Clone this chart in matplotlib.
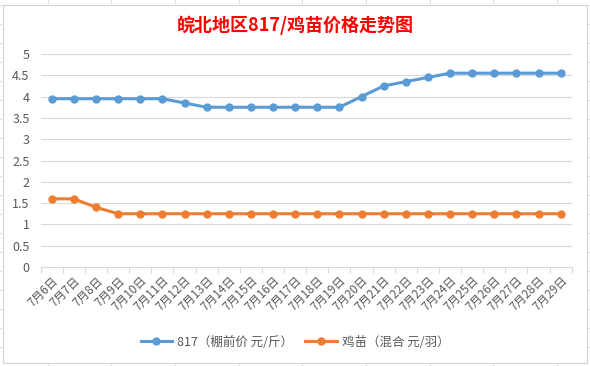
import matplotlib
matplotlib.use("Agg")
import matplotlib.pyplot as plt
from matplotlib.lines import Line2D
from matplotlib.patches import Rectangle

plt.rcParams['font.family'] = ['Noto Sans CJK SC', 'DejaVu Sans']

dates = [f"7月{d}日" for d in range(6, 30)]
price_817 = [3.95, 3.95, 3.95, 3.95, 3.95, 3.95, 3.85, 3.75, 3.75, 3.75, 3.75, 3.75,
             3.75, 3.75, 4.0, 4.25, 4.35, 4.45, 4.55, 4.55, 4.55, 4.55, 4.55, 4.55]
price_chick = [1.6, 1.6, 1.4, 1.25, 1.25, 1.25, 1.25, 1.25, 1.25, 1.25, 1.25, 1.25,
               1.25, 1.25, 1.25, 1.25, 1.25, 1.25, 1.25, 1.25, 1.25, 1.25, 1.25, 1.25]
series_names = ["817（棚前价 元/斤）", "鸡苗（混合 元/羽）"]
title = "皖北地区817/鸡苗价格走势图"

W, H = 590, 366
fig = plt.figure(figsize=(W / 100, H / 100), dpi=100)

# spreadsheet background grid + chart border
bg = fig.add_axes([0, 0, 1, 1])
bg.set_xlim(0, W)
bg.set_ylim(H, 0)
bg.axis('off')
for x in [48, 111, 175, 239, 302, 366, 430, 493, 557]:
    bg.plot([x, x], [0, 5], color='#E0E0E0', lw=0.8)
for y in range(5, H, 19):
    bg.plot([0, 3], [y, y], color='#E0E0E0', lw=0.8)
    bg.plot([587, W], [y, y], color='#E0E0E0', lw=0.8)
for x in [48, 111, 175, 239, 302, 366, 430, 493, 557]:
    bg.plot([x, x], [363, H], color='#E0E0E0', lw=0.8)
bg.add_patch(Rectangle((3, 5), 584, 358, facecolor='white', edgecolor='#D0D0D0', lw=0.8))

ax = fig.add_axes([40.7 / W, 1 - 267 / H, (571.7 - 40.7) / W, (267 - 54) / H])
x = list(range(len(dates)))
ax.plot(x, price_817, color='#5B9BD5', lw=2.2, marker='o', ms=5, zorder=3)
ax.plot(x, price_chick, color='#ED7D31', lw=2.2, marker='o', ms=5, zorder=3)

ax.set_xlim(-0.5, len(dates) - 0.5)
ax.set_ylim(0, 5)
ax.set_yticks([i * 0.5 for i in range(11)])
ax.set_yticklabels(['0', '0.5', '1', '1.5', '2', '2.5', '3', '3.5', '4', '4.5', '5'])
ax.grid(axis='y', color='#D9D9D9', lw=0.8)
ax.set_axisbelow(True)
for s in ['top', 'right', 'left']:
    ax.spines[s].set_visible(False)
ax.spines['bottom'].set_color('#D9D9D9')
ax.tick_params(axis='y', length=0, labelsize=9, labelcolor='#595959', pad=8)

ax.set_xticks([i - 0.5 for i in range(len(dates) + 1)], minor=False)
ax.set_xticklabels([''] * (len(dates) + 1))
ax.tick_params(axis='x', which='major', length=4, color='#D9D9D9')
ax.set_xticks(x, minor=True)
ax.set_xticklabels(dates, minor=True, rotation=45, ha='right', va='top',
                   rotation_mode='anchor', fontsize=8.5, color='#595959')
ax.tick_params(axis='x', which='minor', length=0, pad=5)

fig.text(0.5, 1 - 25 / H, title, ha='center', va='center', fontsize=13,
         fontweight='bold', color='#FF0000')

handles = [Line2D([], [], color='#5B9BD5', lw=2.2, marker='o', ms=5),
           Line2D([], [], color='#ED7D31', lw=2.2, marker='o', ms=5)]
fig.legend(handles, series_names, loc='center', bbox_to_anchor=(0.5, 1 - 342 / H),
           ncol=2, frameon=False, fontsize=9, handlelength=2.5, columnspacing=1.0,
           handletextpad=0.4, labelcolor='#595959')

fig.savefig('out.png', dpi=100)
